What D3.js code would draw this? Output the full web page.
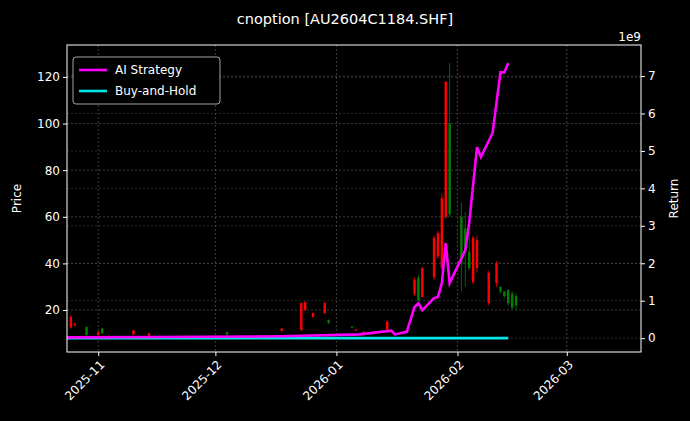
<!DOCTYPE html>
<html><head><meta charset="utf-8">
<script src="https://cdn.jsdelivr.net/npm/d3@7"></script>
<style>body{margin:0;background:#000}text{font-family:"DejaVu Sans",sans-serif}</style>
</head><body><svg id="c" width="690" height="421"></svg>
<script>
// candles: date, open, close, high, low
var candleDates = ["2025-10-25","2025-10-26","2025-10-29","2025-11-01","2025-11-02","2025-11-10","2025-11-14","2025-11-19","2025-12-04","2025-12-18",
  "2025-12-23","2025-12-24","2025-12-26","2025-12-29","2025-12-30","2026-01-05","2026-01-06","2026-01-08","2026-01-14",
  "2026-01-21","2026-01-22","2026-01-23","2026-01-26","2026-01-27","2026-01-28","2026-01-29","2026-01-30",
  "2026-02-02","2026-02-03","2026-02-04","2026-02-05","2026-02-06","2026-02-09","2026-02-11","2026-02-12","2026-02-13","2026-02-14","2026-02-15","2026-02-16"];
var opens  = [12.5,13.5,12.7,9.3,12,9.5,9,8.5,10.5,11,   11.4,20,17,18.7,15.7,12.9,11.2,10,11.5, 27,34,25.6, 34,43,38,60,100, 60,55,45,32,38,23,31.6,30,28,28.6,27,26];
var closes = [17,14.2,9.3,10.5,10,11.2,10,7.8,9.5,12,     23,23.4,18.7,23,14.4,12.5,11.6,10.6,15, 33,24,38, 51,53,68,118,61, 40,45,38,51,50,36,40,28,26,23,21,22];
var highs  = [18,14.5,13,11,12.5,11.5,10.2,9,10.8,12.5,    23.5,24,19,23.5,16,13,12,11,15.5, 34,35,38.5, 52,54,70,118,126, 66,62,52,52,52,37,41,30,28,29,28,27];
var lows   = [12,13,9,9,9.8,9.3,8.8,7.5,9.3,10.8,          11,19.5,16.8,18.3,14,12.3,11,9.8,11.3, 26,24,25.4, 33,42,37,59,60, 28,30,37,31,36,22,30,27,25,22,20,20];

var retDates = ["2025-10-24","2025-11-15","2025-12-18","2026-01-07","2026-01-15","2026-01-16","2026-01-19","2026-01-21","2026-01-22","2026-01-23",
  "2026-01-26","2026-01-27","2026-01-28","2026-01-29","2026-01-30","2026-02-03","2026-02-04","2026-02-06","2026-02-07","2026-02-10","2026-02-12","2026-02-13","2026-02-14"];
var aiReturn = [0.02,0.03,0.05,0.1,0.2,0.1,0.17,0.83,0.93,0.75, 1.07,1.1,1.47,2.54,1.47,2.35,3.07,5.1,4.84,5.48,7.1,7.1,7.35];
var bhDates = ["2025-10-24","2026-02-14"];
var bhReturn = [0,0];

var xTicks = ["2025-11-01","2025-12-01","2026-01-01","2026-02-01","2026-03-01"];
var yTicks = [20,40,60,80,100,120];
var rTicks = [0,1,2,3,4,5,6,7];

var p = d3.timeParse("%Y-%m-%d");
var svg = d3.select("#c");
var L = 67, R = 641, T = 45, B = 352;
var x = d3.scaleTime().domain([p("2025-10-24"), p("2026-03-20")]).range([L, R]);
var y = d3.scaleLinear().domain([2, 133.7]).range([B, T]);
var yr = d3.scaleLinear().domain([-0.37, 7.83]).range([B, T]);

var grid = svg.append("g").attr("stroke", "#666").attr("stroke-width", 0.6).attr("stroke-dasharray", "2,2");
xTicks.forEach(function(d){ grid.append("line").attr("x1", x(p(d))).attr("x2", x(p(d))).attr("y1", T).attr("y2", B); });
yTicks.forEach(function(d){ grid.append("line").attr("x1", L).attr("x2", R).attr("y1", y(d)).attr("y2", y(d)); });
rTicks.forEach(function(d){ grid.append("line").attr("x1", L).attr("x2", R).attr("y1", yr(d)).attr("y2", yr(d)).attr("stroke", "#444"); });

var cg = svg.append("g");
candleDates.forEach(function(d, i){
  var col = closes[i] >= opens[i] ? "#ff0000" : "#008000";
  var cx = x(p(d));
  cg.append("line").attr("x1", cx).attr("x2", cx).attr("y1", y(highs[i])).attr("y2", y(lows[i])).attr("stroke", col).attr("stroke-width", 0.8);
  cg.append("rect").attr("x", cx - 1.2).attr("width", 2.4)
    .attr("y", y(Math.max(opens[i], closes[i])))
    .attr("height", Math.max(1, Math.abs(y(opens[i]) - y(closes[i])))).attr("fill", col);
});

var line = d3.line().x(function(d){ return x(p(d[0])); }).y(function(d){ return yr(d[1]); });
svg.append("path").datum(bhDates.map(function(d, i){ return [d, bhReturn[i]]; }))
  .attr("d", line).attr("fill", "none").attr("stroke", "#00e5e5").attr("stroke-width", 2.6);
svg.append("path").datum(retDates.map(function(d, i){ return [d, aiReturn[i]]; }))
  .attr("d", line).attr("fill", "none").attr("stroke", "#ff00ff").attr("stroke-width", 2.6);

svg.append("rect").attr("x", L).attr("y", T).attr("width", R - L).attr("height", B - T)
  .attr("fill", "none").attr("stroke", "#fff").attr("stroke-width", 1);

var ax = svg.append("g").attr("transform", "translate(0," + B + ")")
  .call(d3.axisBottom(x).tickValues(xTicks.map(p)).tickFormat(d3.timeFormat("%Y-%m")).tickSize(4));
ax.selectAll("text").attr("transform", "rotate(-45)").attr("text-anchor", "end").attr("dx", "-0.4em").attr("dy", "0.6em");
var ay = svg.append("g").attr("transform", "translate(" + L + ",0)").call(d3.axisLeft(y).tickValues(yTicks).tickSize(4));
var ar = svg.append("g").attr("transform", "translate(" + R + ",0)").call(d3.axisRight(yr).tickValues(rTicks).tickSize(4));
[ax, ay, ar].forEach(function(a){
  a.select(".domain").remove();
  a.selectAll("line").attr("stroke", "#fff");
  a.selectAll("text").attr("fill", "#fff").attr("font-size", 12).attr("font-family", "DejaVu Sans");
});

svg.append("text").attr("x", 345).attr("y", 24).attr("text-anchor", "middle").attr("fill", "#fff").attr("font-size", 14.5).text("cnoption [AU2604C1184.SHF]");
svg.append("text").attr("x", 641).attr("y", 41).attr("text-anchor", "end").attr("fill", "#fff").attr("font-size", 12).text("1e9");
svg.append("text").attr("transform", "translate(21," + ((T + B) / 2) + ") rotate(-90)").attr("text-anchor", "middle").attr("fill", "#fff").attr("font-size", 12).text("Price");
svg.append("text").attr("transform", "translate(678," + ((T + B) / 2) + ") rotate(-90)").attr("text-anchor", "middle").attr("fill", "#fff").attr("font-size", 12).text("Return");

var lg = svg.append("g").attr("transform", "translate(73,57)");
lg.append("rect").attr("width", 147).attr("height", 47).attr("rx", 3).attr("fill", "#000").attr("stroke", "#ccc").attr("stroke-width", 0.8);
[["AI Strategy", "#ff00ff"], ["Buy-and-Hold", "#00e5e5"]].forEach(function(d, i){
  lg.append("line").attr("x1", 6).attr("x2", 34).attr("y1", 13 + i * 21).attr("y2", 13 + i * 21).attr("stroke", d[1]).attr("stroke-width", 2.6);
  lg.append("text").attr("x", 42).attr("y", 17 + i * 21).attr("fill", "#fff").attr("font-size", 12).text(d[0]);
});
</script></body></html>
